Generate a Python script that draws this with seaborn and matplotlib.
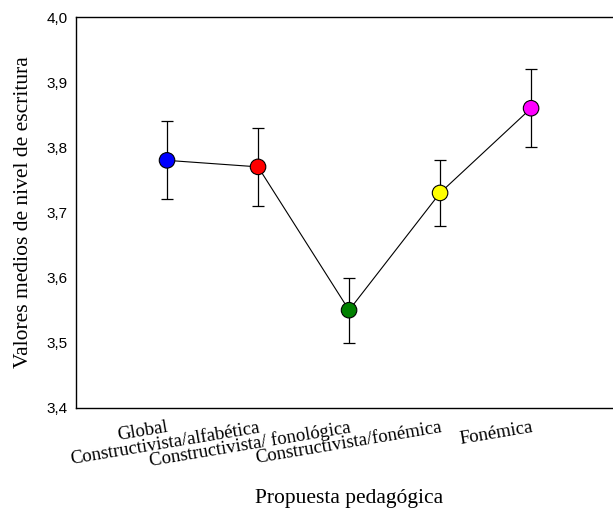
import matplotlib
matplotlib.use("Agg")
import matplotlib.pyplot as plt
import numpy as np
import pandas as pd
import seaborn as sns

propuestas = ['Global', 'Constructivista/alfabética', 'Constructivista/ fonológica',
              'Constructivista/fonémica', 'Fonémica']
medias = [3.78, 3.77, 3.55, 3.73, 3.86]
inferior = [3.72, 3.71, 3.50, 3.68, 3.80]
superior = [3.84, 3.83, 3.60, 3.78, 3.92]
colores = ['#0000ff', '#ff0000', '#008000', '#ffff00', '#ff00ff']
y_ticks = [3.4, 3.5, 3.6, 3.7, 3.8, 3.9, 4.0]

df = pd.DataFrame({'pos': np.arange(len(propuestas)), 'media': medias,
                   'inf': inferior, 'sup': superior, 'prop': propuestas})

sns.set_style("white")
fig = plt.figure(figsize=(6.13, 5.08), dpi=100)
ax = fig.add_axes([0.124, 0.197, 0.876, 0.7695])

yerr = [df['media'] - df['inf'], df['sup'] - df['media']]
ax.errorbar(df['pos'], df['media'], yerr=yerr, fmt='none', ecolor='black',
            elinewidth=0.9, capsize=4.5, capthick=0.9, zorder=2)
sns.lineplot(data=df, x='pos', y='media', color='black', linewidth=0.8,
             ax=ax, zorder=3)
sns.scatterplot(data=df, x='pos', y='media', hue='prop', palette=colores,
                s=125, edgecolor='black', linewidth=0.8, legend=False,
                ax=ax, zorder=4)

ax.set_xlim(-1, 4.9)
ax.set_ylim(3.4, 4.0)
ax.set_yticks(y_ticks)
ax.set_yticklabels([f'{v:.1f}'.replace('.', ',') for v in y_ticks],
                   family='Liberation Sans', fontsize=11)
ax.set_xticks(df['pos'])
ax.set_xticklabels(propuestas, family='Liberation Serif', fontsize=13.5,
                   rotation=9.5, ha='right', rotation_mode='anchor')
ax.tick_params(axis='both', direction='in', length=4, width=0.9, colors='black')
ax.tick_params(axis='x', pad=8)
ax.tick_params(axis='y', pad=6)

for side in ['left', 'bottom', 'top']:
    ax.spines[side].set_color('black')
    ax.spines[side].set_linewidth(1.0)
ax.spines['right'].set_visible(False)

ax.set_xlabel('Propuesta pedagógica', family='Liberation Serif', fontsize=15.5,
              color='black')
ax.xaxis.set_label_coords(0.508, -0.208)
ax.set_ylabel('Valores medios de nivel de escritura', family='Liberation Serif',
              fontsize=15.5, labelpad=10, color='black')

fig.savefig('out.png', dpi=100)
